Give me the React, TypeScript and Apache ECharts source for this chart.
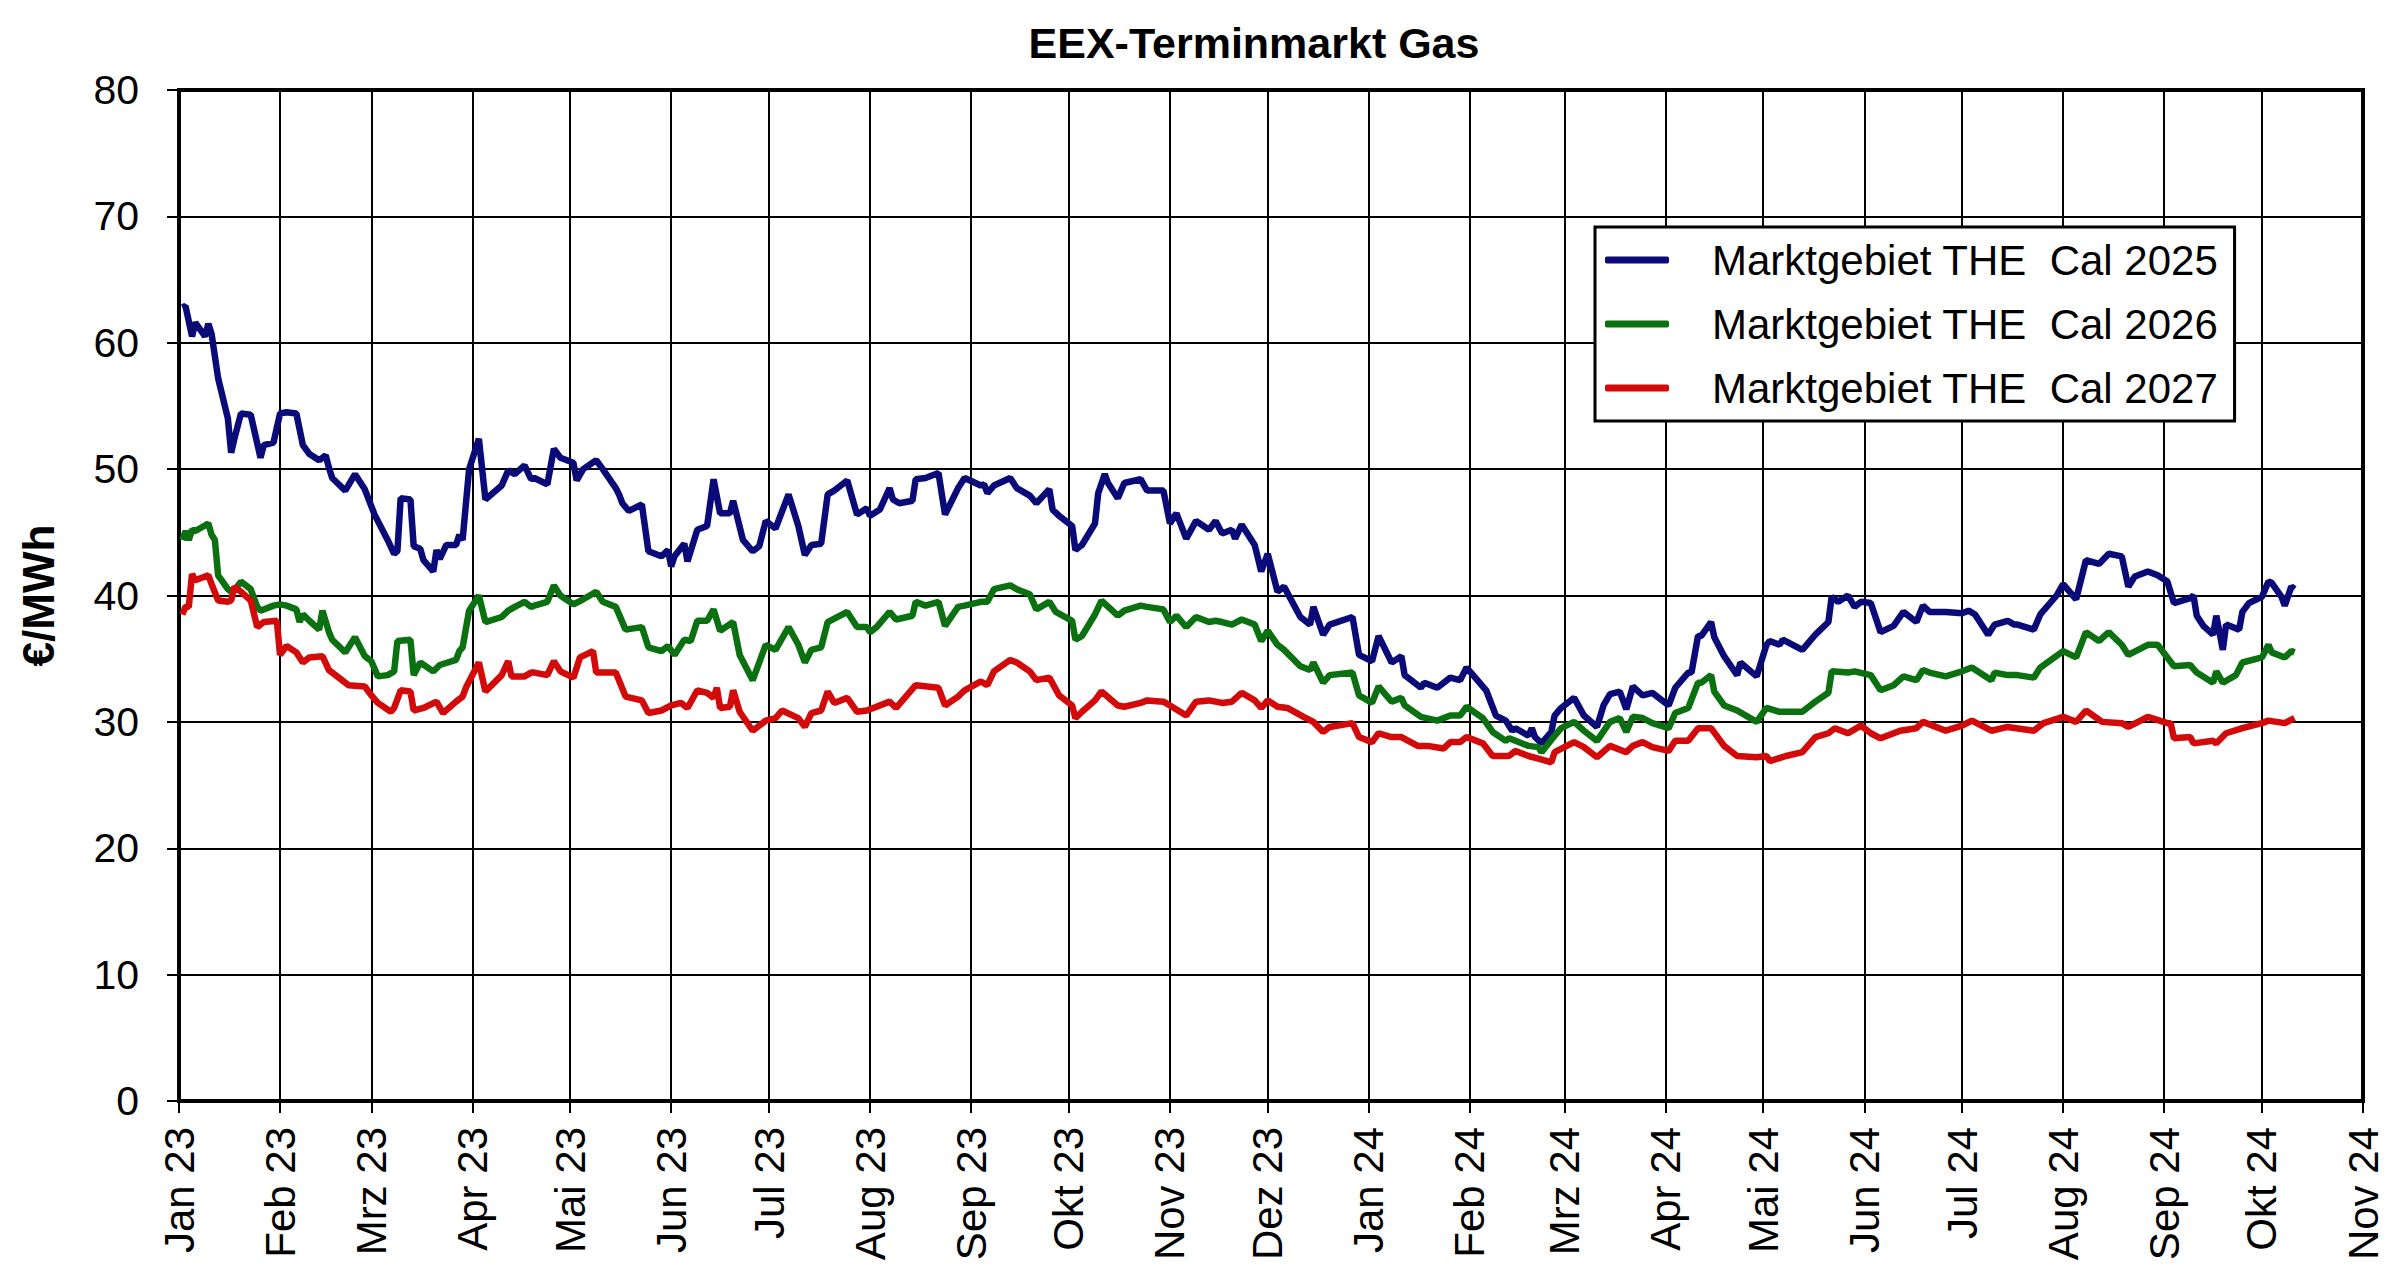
import React, { useEffect, useRef } from "react";
import * as echarts from "echarts";

const chartTitle = "EEX-Terminmarkt Gas";
const yAxisName = "€/MWh";
const monthNames = ["Jan", "Feb", "Mrz", "Apr", "Mai", "Jun", "Jul", "Aug", "Sep", "Okt", "Nov", "Dez"];
const seriesNames = ["Marktgebiet THE  Cal 2025", "Marktgebiet THE  Cal 2026", "Marktgebiet THE  Cal 2027"];
const seriesColors = ["#0a0a78", "#0b700f", "#d20a0a"];
const xStart = "2023-01-01";
const xEnd = "2024-11-01";
const yMin = 0;
const yMax = 80;
const yStep = 10;

const cal2025: [string, number][] = [
  ["2023-01-02", 62.8], ["2023-01-03", 62.9], ["2023-01-05", 60.5], ["2023-01-06", 61.6], ["2023-01-09", 60.5],
  ["2023-01-10", 61.5], ["2023-01-11", 60.7], ["2023-01-13", 57.2], ["2023-01-16", 54.0], ["2023-01-17", 51.3],
  ["2023-01-18", 52.4], ["2023-01-20", 54.4], ["2023-01-23", 54.3], ["2023-01-26", 50.9], ["2023-01-27", 51.9],
  ["2023-01-30", 52.1], ["2023-02-01", 54.4], ["2023-02-03", 54.5], ["2023-02-06", 54.4], ["2023-02-08", 51.9],
  ["2023-02-10", 51.2], ["2023-02-13", 50.7], ["2023-02-15", 51.1], ["2023-02-16", 50.1], ["2023-02-17", 49.3],
  ["2023-02-21", 48.3], ["2023-02-24", 49.6], ["2023-02-27", 48.4], ["2023-03-02", 46.4], ["2023-03-06", 44.4],
  ["2023-03-08", 43.3], ["2023-03-09", 43.5], ["2023-03-10", 47.7], ["2023-03-13", 47.6], ["2023-03-14", 43.9],
  ["2023-03-16", 43.7], ["2023-03-17", 42.8], ["2023-03-20", 41.9], ["2023-03-21", 43.6], ["2023-03-22", 42.9],
  ["2023-03-24", 44.0], ["2023-03-27", 44.0], ["2023-03-28", 44.8], ["2023-03-29", 44.4], ["2023-03-31", 50.0],
  ["2023-04-03", 52.4], ["2023-04-05", 47.6], ["2023-04-10", 48.7], ["2023-04-12", 49.9], ["2023-04-14", 49.6],
  ["2023-04-17", 50.3], ["2023-04-19", 49.2], ["2023-04-20", 49.3], ["2023-04-24", 48.8], ["2023-04-26", 51.6],
  ["2023-04-28", 50.9], ["2023-05-02", 50.5], ["2023-05-03", 49.1], ["2023-05-05", 50.0], ["2023-05-09", 50.7],
  ["2023-05-11", 50.0], ["2023-05-15", 48.5], ["2023-05-16", 48.0], ["2023-05-17", 47.3], ["2023-05-19", 46.7],
  ["2023-05-23", 47.2], ["2023-05-25", 43.5], ["2023-05-29", 43.1], ["2023-05-31", 43.6], ["2023-06-01", 42.3],
  ["2023-06-02", 43.1], ["2023-06-05", 44.1], ["2023-06-06", 42.7], ["2023-06-09", 45.2], ["2023-06-12", 45.5],
  ["2023-06-14", 49.2], ["2023-06-16", 46.5], ["2023-06-19", 46.5], ["2023-06-20", 47.5], ["2023-06-23", 44.4],
  ["2023-06-26", 43.5], ["2023-06-28", 43.9], ["2023-06-30", 45.9], ["2023-07-03", 45.3], ["2023-07-07", 48.0],
  ["2023-07-10", 45.5], ["2023-07-12", 43.2], ["2023-07-14", 44.0], ["2023-07-17", 44.1], ["2023-07-19", 48.0],
  ["2023-07-21", 48.3], ["2023-07-25", 49.1], ["2023-07-28", 46.4], ["2023-07-31", 46.9], ["2023-08-01", 46.3],
  ["2023-08-04", 46.8], ["2023-08-07", 48.5], ["2023-08-08", 47.6], ["2023-08-10", 47.3], ["2023-08-14", 47.5],
  ["2023-08-15", 49.2], ["2023-08-18", 49.3], ["2023-08-22", 49.7], ["2023-08-24", 46.4], ["2023-08-28", 48.5],
  ["2023-08-30", 49.3], ["2023-09-04", 48.7], ["2023-09-05", 48.8], ["2023-09-06", 48.1], ["2023-09-08", 48.7],
  ["2023-09-13", 49.3], ["2023-09-15", 48.5], ["2023-09-19", 47.9], ["2023-09-21", 47.3], ["2023-09-25", 48.4],
  ["2023-09-26", 46.8], ["2023-09-28", 46.3], ["2023-10-02", 45.5], ["2023-10-03", 43.6], ["2023-10-05", 44.0],
  ["2023-10-09", 45.7], ["2023-10-10", 48.1], ["2023-10-12", 49.6], ["2023-10-13", 48.9], ["2023-10-16", 47.7],
  ["2023-10-18", 48.9], ["2023-10-23", 49.2], ["2023-10-25", 48.3], ["2023-10-30", 48.3], ["2023-11-01", 45.7],
  ["2023-11-03", 46.5], ["2023-11-06", 44.5], ["2023-11-09", 45.9], ["2023-11-13", 45.2], ["2023-11-15", 45.9],
  ["2023-11-17", 44.9], ["2023-11-20", 45.2], ["2023-11-21", 44.5], ["2023-11-23", 45.6], ["2023-11-27", 44.0],
  ["2023-11-29", 41.9], ["2023-12-01", 43.3], ["2023-12-04", 40.3], ["2023-12-06", 40.7], ["2023-12-11", 38.3],
  ["2023-12-14", 37.7], ["2023-12-15", 39.1], ["2023-12-18", 36.9], ["2023-12-20", 37.7], ["2023-12-27", 38.3],
  ["2023-12-29", 35.3], ["2024-01-02", 34.8], ["2024-01-04", 36.8], ["2024-01-08", 34.7], ["2024-01-11", 35.2],
  ["2024-01-12", 33.7], ["2024-01-17", 32.7], ["2024-01-18", 33.1], ["2024-01-22", 32.7], ["2024-01-26", 33.5],
  ["2024-01-29", 33.3], ["2024-01-31", 34.3], ["2024-02-02", 33.7], ["2024-02-06", 32.5], ["2024-02-09", 30.5],
  ["2024-02-12", 30.1], ["2024-02-14", 29.3], ["2024-02-15", 29.5], ["2024-02-19", 28.9], ["2024-02-20", 29.5],
  ["2024-02-21", 28.8], ["2024-02-23", 28.3], ["2024-02-26", 29.2], ["2024-02-27", 30.5], ["2024-02-29", 31.1],
  ["2024-03-04", 31.9], ["2024-03-07", 30.5], ["2024-03-11", 29.6], ["2024-03-13", 31.3], ["2024-03-15", 32.2],
  ["2024-03-18", 32.4], ["2024-03-20", 31.0], ["2024-03-22", 32.8], ["2024-03-25", 32.1], ["2024-03-28", 32.3],
  ["2024-04-02", 31.3], ["2024-04-04", 32.7], ["2024-04-08", 33.9], ["2024-04-09", 33.9], ["2024-04-11", 36.8],
  ["2024-04-12", 36.8], ["2024-04-15", 37.9], ["2024-04-16", 36.7], ["2024-04-19", 35.2], ["2024-04-23", 33.7],
  ["2024-04-24", 34.7], ["2024-04-29", 33.6], ["2024-05-02", 36.1], ["2024-05-03", 36.4], ["2024-05-06", 36.1],
  ["2024-05-07", 36.5], ["2024-05-13", 35.7], ["2024-05-17", 36.9], ["2024-05-21", 37.9], ["2024-05-22", 39.9],
  ["2024-05-24", 39.5], ["2024-05-27", 40.0], ["2024-05-29", 39.1], ["2024-05-31", 39.5], ["2024-06-03", 39.4],
  ["2024-06-06", 37.1], ["2024-06-10", 37.6], ["2024-06-13", 38.7], ["2024-06-17", 37.9], ["2024-06-19", 39.2],
  ["2024-06-21", 38.7], ["2024-06-26", 38.7], ["2024-07-01", 38.6], ["2024-07-03", 38.8], ["2024-07-05", 38.5],
  ["2024-07-09", 36.9], ["2024-07-11", 37.7], ["2024-07-15", 38.0], ["2024-07-17", 37.7], ["2024-07-18", 37.7],
  ["2024-07-23", 37.3], ["2024-07-25", 38.5], ["2024-07-30", 40.0], ["2024-08-01", 40.9], ["2024-08-05", 39.7],
  ["2024-08-08", 42.8], ["2024-08-12", 42.5], ["2024-08-15", 43.3], ["2024-08-19", 43.1], ["2024-08-21", 40.7],
  ["2024-08-23", 41.5], ["2024-08-27", 41.9], ["2024-08-30", 41.6], ["2024-09-02", 41.1], ["2024-09-04", 39.4],
  ["2024-09-09", 39.8], ["2024-09-10", 40.0], ["2024-09-11", 38.4], ["2024-09-13", 37.6], ["2024-09-16", 36.9],
  ["2024-09-17", 38.4], ["2024-09-19", 35.7], ["2024-09-20", 37.7], ["2024-09-24", 37.3], ["2024-09-25", 38.7],
  ["2024-09-27", 39.4], ["2024-10-01", 39.9], ["2024-10-03", 41.1], ["2024-10-04", 41.0], ["2024-10-07", 39.9],
  ["2024-10-08", 39.2], ["2024-10-10", 40.7], ["2024-10-11", 40.5],
];

const cal2026: [string, number][] = [
  ["2023-01-02", 44.4], ["2023-01-03", 45.1], ["2023-01-04", 44.4], ["2023-01-05", 45.2], ["2023-01-06", 45.1],
  ["2023-01-10", 45.7], ["2023-01-11", 44.8], ["2023-01-12", 44.4], ["2023-01-13", 41.6], ["2023-01-16", 40.5],
  ["2023-01-17", 40.3], ["2023-01-18", 40.4], ["2023-01-20", 41.1], ["2023-01-23", 40.5], ["2023-01-25", 39.1],
  ["2023-01-26", 38.8], ["2023-01-30", 39.2], ["2023-02-01", 39.3], ["2023-02-03", 39.2], ["2023-02-06", 38.9],
  ["2023-02-07", 37.9], ["2023-02-08", 38.5], ["2023-02-10", 38.0], ["2023-02-13", 37.3], ["2023-02-14", 38.8],
  ["2023-02-16", 37.1], ["2023-02-17", 36.5], ["2023-02-21", 35.5], ["2023-02-24", 36.7], ["2023-02-27", 35.2],
  ["2023-03-01", 34.8], ["2023-03-03", 33.6], ["2023-03-06", 33.7], ["2023-03-08", 34.0], ["2023-03-09", 36.4],
  ["2023-03-13", 36.5], ["2023-03-14", 33.7], ["2023-03-16", 34.7], ["2023-03-20", 34.0], ["2023-03-22", 34.5],
  ["2023-03-27", 34.9], ["2023-03-28", 35.6], ["2023-03-29", 35.9], ["2023-03-31", 38.8], ["2023-04-03", 40.0],
  ["2023-04-05", 37.9], ["2023-04-10", 38.3], ["2023-04-12", 38.8], ["2023-04-14", 39.1], ["2023-04-17", 39.5],
  ["2023-04-19", 39.1], ["2023-04-20", 39.2], ["2023-04-24", 39.5], ["2023-04-26", 40.8], ["2023-04-28", 40.0],
  ["2023-05-02", 39.3], ["2023-05-05", 39.7], ["2023-05-09", 40.3], ["2023-05-11", 39.5], ["2023-05-15", 39.1],
  ["2023-05-18", 37.3], ["2023-05-23", 37.5], ["2023-05-25", 35.9], ["2023-05-29", 35.6], ["2023-05-31", 36.0],
  ["2023-06-02", 35.3], ["2023-06-05", 36.5], ["2023-06-07", 36.4], ["2023-06-09", 38.0], ["2023-06-12", 38.0],
  ["2023-06-14", 38.9], ["2023-06-16", 37.2], ["2023-06-20", 37.9], ["2023-06-22", 35.3], ["2023-06-26", 33.3],
  ["2023-06-30", 36.1], ["2023-07-03", 35.7], ["2023-07-07", 37.5], ["2023-07-10", 36.1], ["2023-07-12", 34.7],
  ["2023-07-14", 35.7], ["2023-07-17", 35.9], ["2023-07-19", 37.9], ["2023-07-25", 38.7], ["2023-07-28", 37.5],
  ["2023-07-31", 37.5], ["2023-08-01", 37.1], ["2023-08-03", 37.5], ["2023-08-07", 38.7], ["2023-08-09", 38.1],
  ["2023-08-14", 38.4], ["2023-08-15", 39.5], ["2023-08-18", 39.2], ["2023-08-22", 39.5], ["2023-08-24", 37.6],
  ["2023-08-28", 39.1], ["2023-08-30", 39.2], ["2023-09-04", 39.5], ["2023-09-06", 39.5], ["2023-09-08", 40.5],
  ["2023-09-13", 40.8], ["2023-09-15", 40.5], ["2023-09-19", 40.1], ["2023-09-21", 38.9], ["2023-09-25", 39.5],
  ["2023-09-27", 38.7], ["2023-10-02", 38.0], ["2023-10-03", 36.5], ["2023-10-05", 36.8], ["2023-10-09", 38.5],
  ["2023-10-11", 39.6], ["2023-10-16", 38.4], ["2023-10-18", 38.8], ["2023-10-23", 39.2], ["2023-10-25", 39.1],
  ["2023-10-30", 38.9], ["2023-11-01", 37.9], ["2023-11-03", 38.4], ["2023-11-06", 37.5], ["2023-11-09", 38.3],
  ["2023-11-13", 37.9], ["2023-11-15", 38.0], ["2023-11-17", 37.9], ["2023-11-20", 37.7], ["2023-11-23", 38.1],
  ["2023-11-27", 37.7], ["2023-11-29", 36.4], ["2023-12-01", 37.2], ["2023-12-04", 36.1], ["2023-12-06", 35.7],
  ["2023-12-11", 34.4], ["2023-12-14", 34.1], ["2023-12-15", 34.7], ["2023-12-18", 33.1], ["2023-12-20", 33.7],
  ["2023-12-27", 33.9], ["2023-12-29", 32.1], ["2024-01-02", 31.5], ["2024-01-04", 32.8], ["2024-01-08", 31.6],
  ["2024-01-11", 31.9], ["2024-01-12", 31.3], ["2024-01-17", 30.4], ["2024-01-22", 30.1], ["2024-01-26", 30.5],
  ["2024-01-29", 30.5], ["2024-01-31", 31.2], ["2024-02-05", 30.3], ["2024-02-08", 29.2], ["2024-02-12", 28.5],
  ["2024-02-13", 28.7], ["2024-02-15", 28.5], ["2024-02-19", 28.1], ["2024-02-22", 28.0], ["2024-02-23", 27.6],
  ["2024-02-27", 28.9], ["2024-02-29", 29.5], ["2024-03-04", 30.0], ["2024-03-07", 29.3], ["2024-03-11", 28.5],
  ["2024-03-15", 30.0], ["2024-03-18", 30.3], ["2024-03-20", 29.2], ["2024-03-22", 30.4], ["2024-03-25", 30.3],
  ["2024-03-28", 29.9], ["2024-04-02", 29.5], ["2024-04-04", 30.7], ["2024-04-08", 31.1], ["2024-04-11", 33.1],
  ["2024-04-12", 33.1], ["2024-04-15", 33.7], ["2024-04-16", 32.4], ["2024-04-19", 31.3], ["2024-04-23", 30.9],
  ["2024-04-29", 30.0], ["2024-05-02", 31.1], ["2024-05-06", 30.8], ["2024-05-07", 30.8], ["2024-05-13", 30.8],
  ["2024-05-17", 31.6], ["2024-05-21", 32.3], ["2024-05-22", 34.0], ["2024-05-27", 33.9], ["2024-05-29", 34.0],
  ["2024-06-03", 33.7], ["2024-06-06", 32.5], ["2024-06-10", 32.9], ["2024-06-13", 33.6], ["2024-06-17", 33.3],
  ["2024-06-19", 34.1], ["2024-06-21", 33.9], ["2024-06-26", 33.6], ["2024-07-01", 34.0], ["2024-07-04", 34.3],
  ["2024-07-10", 33.3], ["2024-07-11", 33.9], ["2024-07-15", 33.7], ["2024-07-18", 33.7], ["2024-07-23", 33.5],
  ["2024-07-25", 34.3], ["2024-08-01", 35.6], ["2024-08-05", 35.1], ["2024-08-08", 37.1], ["2024-08-12", 36.4],
  ["2024-08-15", 37.1], ["2024-08-19", 36.1], ["2024-08-21", 35.3], ["2024-08-27", 36.1], ["2024-08-30", 36.1],
  ["2024-09-04", 34.4], ["2024-09-09", 34.5], ["2024-09-11", 33.9], ["2024-09-16", 33.1], ["2024-09-17", 34.0],
  ["2024-09-19", 33.1], ["2024-09-23", 33.7], ["2024-09-25", 34.7], ["2024-10-01", 35.1], ["2024-10-03", 36.1],
  ["2024-10-04", 35.5], ["2024-10-08", 35.1], ["2024-10-10", 35.6], ["2024-10-11", 35.5],
];

const cal2027: [string, number][] = [
  ["2023-01-02", 38.5], ["2023-01-03", 39.1], ["2023-01-04", 39.1], ["2023-01-05", 41.7], ["2023-01-06", 41.2],
  ["2023-01-10", 41.6], ["2023-01-11", 40.9], ["2023-01-13", 39.6], ["2023-01-16", 39.5], ["2023-01-17", 39.6],
  ["2023-01-18", 40.7], ["2023-01-20", 40.3], ["2023-01-23", 39.6], ["2023-01-25", 37.5], ["2023-01-27", 37.9],
  ["2023-01-31", 38.0], ["2023-02-01", 35.3], ["2023-02-03", 36.0], ["2023-02-06", 35.5], ["2023-02-08", 34.7],
  ["2023-02-10", 35.1], ["2023-02-14", 35.2], ["2023-02-16", 34.1], ["2023-02-20", 33.3], ["2023-02-22", 32.9],
  ["2023-02-27", 32.8], ["2023-03-01", 32.1], ["2023-03-03", 31.5], ["2023-03-07", 30.8], ["2023-03-08", 31.1],
  ["2023-03-10", 32.5], ["2023-03-13", 32.4], ["2023-03-14", 30.9], ["2023-03-17", 31.1], ["2023-03-21", 31.6],
  ["2023-03-23", 30.7], ["2023-03-27", 31.6], ["2023-03-29", 32.0], ["2023-03-30", 32.7], ["2023-04-03", 34.7],
  ["2023-04-05", 32.4], ["2023-04-10", 33.7], ["2023-04-12", 34.8], ["2023-04-13", 33.6], ["2023-04-17", 33.6],
  ["2023-04-19", 33.9], ["2023-04-20", 33.9], ["2023-04-24", 33.7], ["2023-04-26", 34.8], ["2023-04-28", 34.0],
  ["2023-05-02", 33.5], ["2023-05-04", 35.1], ["2023-05-08", 35.6], ["2023-05-09", 33.9], ["2023-05-12", 33.9],
  ["2023-05-15", 33.9], ["2023-05-18", 32.0], ["2023-05-23", 31.7], ["2023-05-25", 30.7], ["2023-05-29", 30.9],
  ["2023-06-01", 31.3], ["2023-06-04", 31.5], ["2023-06-06", 31.1], ["2023-06-09", 32.5], ["2023-06-12", 32.3],
  ["2023-06-14", 31.9], ["2023-06-15", 32.7], ["2023-06-16", 31.1], ["2023-06-19", 31.2], ["2023-06-20", 32.5],
  ["2023-06-22", 30.8], ["2023-06-26", 29.3], ["2023-06-30", 30.1], ["2023-07-03", 30.3], ["2023-07-05", 30.9],
  ["2023-07-10", 30.3], ["2023-07-12", 29.6], ["2023-07-14", 30.7], ["2023-07-17", 30.9], ["2023-07-19", 32.4],
  ["2023-07-21", 31.5], ["2023-07-25", 31.9], ["2023-07-28", 30.8], ["2023-07-31", 30.9], ["2023-08-02", 31.1],
  ["2023-08-07", 31.6], ["2023-08-09", 31.1], ["2023-08-15", 32.9], ["2023-08-22", 32.7], ["2023-08-24", 31.3],
  ["2023-08-28", 32.0], ["2023-08-30", 32.5], ["2023-09-04", 33.2], ["2023-09-06", 32.9], ["2023-09-08", 34.0],
  ["2023-09-13", 34.9], ["2023-09-15", 34.7], ["2023-09-19", 34.0], ["2023-09-21", 33.3], ["2023-09-25", 33.5],
  ["2023-09-28", 32.1], ["2023-10-02", 31.3], ["2023-10-03", 30.3], ["2023-10-05", 30.8], ["2023-10-09", 31.7],
  ["2023-10-11", 32.4], ["2023-10-16", 31.3], ["2023-10-18", 31.2], ["2023-10-23", 31.5], ["2023-10-25", 31.7],
  ["2023-10-30", 31.6], ["2023-11-01", 31.3], ["2023-11-06", 30.5], ["2023-11-09", 31.6], ["2023-11-13", 31.7],
  ["2023-11-17", 31.5], ["2023-11-20", 31.6], ["2023-11-23", 32.3], ["2023-11-27", 31.7], ["2023-11-29", 31.1],
  ["2023-12-01", 31.7], ["2023-12-04", 31.2], ["2023-12-07", 31.1], ["2023-12-12", 30.4], ["2023-12-15", 30.0],
  ["2023-12-18", 29.2], ["2023-12-20", 29.6], ["2023-12-27", 29.9], ["2023-12-29", 28.8], ["2024-01-02", 28.4],
  ["2024-01-04", 29.1], ["2024-01-08", 28.8], ["2024-01-11", 28.8], ["2024-01-16", 28.1], ["2024-01-19", 28.1],
  ["2024-01-24", 27.9], ["2024-01-26", 28.4], ["2024-01-29", 28.4], ["2024-01-31", 28.8], ["2024-02-05", 28.3],
  ["2024-02-08", 27.3], ["2024-02-13", 27.3], ["2024-02-15", 27.7], ["2024-02-19", 27.3], ["2024-02-22", 27.1],
  ["2024-02-26", 26.8], ["2024-02-27", 27.6], ["2024-03-01", 28.0], ["2024-03-04", 28.4], ["2024-03-07", 28.0],
  ["2024-03-11", 27.2], ["2024-03-15", 28.1], ["2024-03-20", 27.6], ["2024-03-22", 28.1], ["2024-03-25", 28.4],
  ["2024-03-28", 28.0], ["2024-04-02", 27.7], ["2024-04-04", 28.5], ["2024-04-08", 28.5], ["2024-04-11", 29.5],
  ["2024-04-15", 29.5], ["2024-04-19", 28.1], ["2024-04-23", 27.3], ["2024-04-29", 27.2], ["2024-05-02", 27.3],
  ["2024-05-03", 26.9], ["2024-05-08", 27.3], ["2024-05-13", 27.6], ["2024-05-17", 28.8], ["2024-05-21", 29.1],
  ["2024-05-23", 29.5], ["2024-05-27", 29.1], ["2024-05-31", 29.7], ["2024-06-03", 29.1], ["2024-06-06", 28.7],
  ["2024-06-12", 29.3], ["2024-06-17", 29.5], ["2024-06-19", 30.0], ["2024-06-26", 29.3], ["2024-07-01", 29.7],
  ["2024-07-04", 30.1], ["2024-07-10", 29.3], ["2024-07-15", 29.6], ["2024-07-23", 29.3], ["2024-07-26", 29.9],
  ["2024-08-01", 30.4], ["2024-08-05", 30.0], ["2024-08-08", 30.9], ["2024-08-13", 30.0], ["2024-08-19", 29.9],
  ["2024-08-21", 29.6], ["2024-08-27", 30.4], ["2024-09-02", 29.9], ["2024-09-03", 29.9], ["2024-09-04", 28.7],
  ["2024-09-09", 28.8], ["2024-09-10", 28.3], ["2024-09-16", 28.5], ["2024-09-17", 28.3], ["2024-09-20", 29.1],
  ["2024-09-25", 29.5], ["2024-10-01", 29.9], ["2024-10-03", 30.1], ["2024-10-08", 29.9], ["2024-10-11", 30.3],
];

const FONT = "'Liberation Sans', Arial, Helvetica, sans-serif";

function parseLocal(s: string): number {
  const [y, m, d] = s.split("-").map(Number);
  return new Date(y, m - 1, d).getTime();
}

export default function App() {
  const ref = useRef<HTMLDivElement>(null);

  useEffect(() => {
    if (!ref.current) return;
    const chart = echarts.init(ref.current, undefined, { renderer: "svg" });
    const allSeries = [cal2025, cal2026, cal2027];
    const DAY = 24 * 3600 * 1000;

    chart.setOption({
      animation: false,
      backgroundColor: "#ffffff",
      title: {
        text: chartTitle,
        left: 1249,
        textAlign: "center",
        top: 16,
        textStyle: { fontFamily: FONT, fontSize: 43, fontWeight: "bold", color: "#000" },
      },
      legend: {
        orient: "vertical",
        left: 1595,
        top: 227,
        itemWidth: 64,
        itemHeight: 7,
        itemGap: 22,
        padding: [12, 16, 12, 10],
        borderColor: "#000",
        borderWidth: 3,
        backgroundColor: "#fff",
        icon: "roundRect",
        textStyle: { fontFamily: FONT, fontSize: 42, lineHeight: 42, color: "#000", padding: [0, 0, 0, 38] },
        data: seriesNames,
      },
      grid: {
        left: 179,
        top: 90,
        right: 37,
        bottom: 183,
        show: true,
        borderColor: "#000",
        borderWidth: 4,
        backgroundColor: "#fff",
        containLabel: false,
        outerBoundsMode: "none",
      },
      xAxis: {
        type: "time",
        min: parseLocal(xStart),
        max: parseLocal(xEnd),
        minInterval: 28 * DAY,
        maxInterval: 31 * DAY,
        splitNumber: 22,
        axisLine: { show: true, lineStyle: { color: "#000", width: 4 } },
        axisTick: { show: true, length: 12, lineStyle: { color: "#000", width: 2 } },
        splitLine: { show: true, lineStyle: { color: "#000", width: 2 } },
        minorTick: { show: false },
        axisLabel: {
          rotate: 90,
          margin: 26,
          fontFamily: FONT,
          fontSize: 42,
          color: "#000",
          hideOverlap: false,
          formatter: (value: number) => {
            const d = new Date(value);
            return monthNames[d.getMonth()] + " " + String(d.getFullYear()).slice(2);
          },
        },
      },
      yAxis: {
        type: "value",
        min: yMin,
        max: yMax,
        interval: yStep,
        name: yAxisName,
        nameLocation: "middle",
        nameGap: 119,
        nameTextStyle: { fontFamily: FONT, fontSize: 44, fontWeight: "bold", color: "#000" },
        axisLine: { show: true, lineStyle: { color: "#000", width: 4 } },
        axisTick: { show: true, length: 12, lineStyle: { color: "#000", width: 2 } },
        splitLine: { show: true, lineStyle: { color: "#000", width: 2 } },
        axisLabel: { margin: 40, fontFamily: FONT, fontSize: 41, color: "#000" },
      },
      series: allSeries.map((arr, i) => ({
        name: seriesNames[i],
        type: "line",
        showSymbol: false,
        symbol: "none",
        color: seriesColors[i],
        lineStyle: { color: seriesColors[i], width: 6.5 },
        itemStyle: { color: seriesColors[i] },
        z: 3,
        data: arr.map(([d, v]) => [parseLocal(d), v]),
      })),
    });

    return () => chart.dispose();
  }, []);

  return (
    <div
      ref={ref}
      style={{ position: "absolute", left: 0, top: 0, width: 2400, height: 1284, background: "#fff" }}
    />
  );
}
